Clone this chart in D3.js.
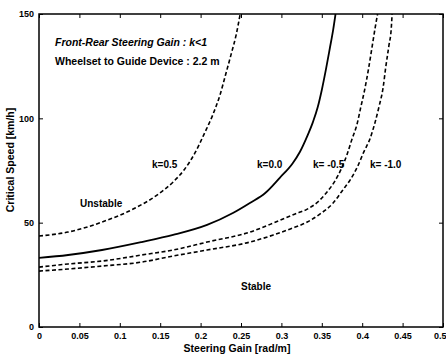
<!DOCTYPE html>
<html>
<head>
<meta charset="utf-8">
<script src="https://cdn.jsdelivr.net/npm/d3@7"></script>
<style>
  body { margin: 0; background: #fff; }
  text { font-family: "Liberation Sans", Arial, sans-serif; font-weight: bold; fill: #000; }
</style>
</head>
<body>
<div id="chart"></div>
<script>
// curve data (steering gain [rad/m] vs critical speed [km/h])
var gainHalf = [0, 0.036, 0.078, 0.119, 0.146, 0.166, 0.180, 0.193, 0.205, 0.215, 0.224, 0.231, 0.238, 0.244, 0.249];
var speedHalf = [43.6, 45.5, 50.3, 57.0, 63.2, 69.5, 75.5, 83.4, 93, 101.6, 111.2, 121, 131, 140, 150];

var gainZero = [0, 0.036, 0.078, 0.127, 0.166, 0.208, 0.240, 0.261, 0.280, 0.298, 0.314, 0.323, 0.332, 0.339, 0.345, 0.350, 0.355, 0.360, 0.364, 0.367];
var speedZero = [33.1, 34.5, 36.9, 40.7, 44.1, 48.9, 54.6, 59.4, 64.2, 71.5, 78.5, 84, 91.5, 98.2, 105.4, 113.6, 123.2, 133.7, 142.3, 150];

var gainMinusHalf = [0, 0.036, 0.078, 0.127, 0.166, 0.208, 0.261, 0.290, 0.317, 0.332, 0.345, 0.356, 0.366, 0.374, 0.381, 0.387, 0.394, 0.398, 0.403, 0.408, 0.412, 0.416, 0.419];
var speedMinusHalf = [28.7, 30.2, 31.6, 34.5, 36.9, 40.7, 45.5, 49.8, 54.2, 56.5, 59.9, 64.5, 69.8, 75.7, 82.4, 89.6, 97.8, 104.9, 113.6, 124.1, 133.7, 143.3, 150];

var gainMinusOne = [0, 0.036, 0.078, 0.127, 0.166, 0.208, 0.261, 0.290, 0.311, 0.332, 0.348, 0.364, 0.376, 0.385, 0.394, 0.402, 0.410, 0.416, 0.421, 0.426, 0.429, 0.433, 0.436, 0.437];
var speedMinusOne = [26.8, 27.8, 29.2, 31.1, 34.0, 36.9, 40.7, 44.1, 47.0, 50.3, 54.2, 59.4, 65.7, 70.4, 76.7, 83.9, 90.6, 98.2, 105.9, 115.0, 124.1, 134.7, 143.3, 150];

var xTicks = [0, 0.05, 0.1, 0.15, 0.2, 0.25, 0.3, 0.35, 0.4, 0.45, 0.5];
var yTicks = [0, 50, 100, 150];

var width = 446;
var height = 356;

var svg = d3
    .select("#chart")
    .append("svg")
    .attr("width", width)
    .attr("height", height);

var xScale = d3.scaleLinear().domain([0, 0.5]).range([39, 443]);
var yScale = d3.scaleLinear().domain([0, 150]).range([327, 14]);

// clip so curves stop at the frame
svg.append("clipPath")
    .attr("id", "plotClip")
    .append("rect")
    .attr("x", xScale(0))
    .attr("y", yScale(150))
    .attr("width", xScale(0.5) - xScale(0))
    .attr("height", yScale(0) - yScale(150));

// axes with inward ticks (matlab style box)
var xAxis = d3.axisBottom(xScale).tickValues(xTicks).tickSize(-4).tickPadding(6)
    .tickFormat(function(d) { return d === 0 ? "0" : String(d); });
var yAxis = d3.axisLeft(yScale).tickValues(yTicks).tickSize(-4).tickPadding(5);

var gx = svg.append("g")
    .attr("class", "xAxis")
    .attr("transform", "translate(0," + yScale(0) + ")")
    .call(xAxis);

var gy = svg.append("g")
    .attr("class", "yAxis")
    .attr("transform", "translate(" + xScale(0) + ",0)")
    .call(yAxis);

svg.append("g")
    .attr("transform", "translate(0," + yScale(150) + ")")
    .call(d3.axisTop(xScale).tickValues(xTicks).tickSize(-4).tickFormat(""));

svg.append("g")
    .attr("transform", "translate(" + xScale(0.5) + ",0)")
    .call(d3.axisRight(yScale).tickValues(yTicks).tickSize(-4).tickFormat(""));

svg.selectAll(".domain").remove();
svg.selectAll(".tick line").attr("stroke", "#000").attr("stroke-width", 1);
svg.selectAll(".tick text")
    .attr("font-size", 9)
    .style("font-family", "'Liberation Sans', Arial, sans-serif")
    .style("font-weight", "bold");

// last x label sits on the window edge, keep it inside
gx.selectAll(".tick text")
    .filter(function(d) { return d === 0.5; })
    .attr("text-anchor", "end")
    .attr("x", 3);

// frame
svg.append("rect")
    .attr("x", xScale(0))
    .attr("y", yScale(150))
    .attr("width", xScale(0.5) - xScale(0))
    .attr("height", yScale(0) - yScale(150))
    .attr("fill", "none")
    .attr("stroke", "#000")
    .attr("stroke-width", 1.5);

// curves
var line = d3.line()
    .x(function(d) { return xScale(d[0]); })
    .y(function(d) { return yScale(d[1]); })
    .curve(d3.curveMonotoneX);

function pairs(xs, ys) {
    return xs.map(function(x, i) { return [x, ys[i]]; });
}

var curves = [
    { pts: pairs(gainHalf, speedHalf), dash: "4,2.5" },
    { pts: pairs(gainZero, speedZero), dash: null },
    { pts: pairs(gainMinusHalf, speedMinusHalf), dash: "4,2.5" },
    { pts: pairs(gainMinusOne, speedMinusOne), dash: "4,2.5" }
];

var plot = svg.append("g").attr("clip-path", "url(#plotClip)");

curves.forEach(function(c) {
    plot.append("path")
        .attr("d", line(c.pts))
        .attr("fill", "none")
        .attr("stroke", "#000")
        .attr("stroke-width", c.dash ? 1.6 : 1.8)
        .attr("stroke-dasharray", c.dash);
});

// annotations
svg.append("text")
    .attr("x", 55)
    .attr("y", 46)
    .attr("font-size", 10.5)
    .style("font-style", "italic")
    .text("Front-Rear Steering Gain : k<1");

svg.append("text")
    .attr("x", 55)
    .attr("y", 65)
    .attr("font-size", 10.5)
    .text("Wheelset to Guide Device : 2.2 m");

var notes = [
    { t: "k=0.5", x: 152, y: 168 },
    { t: "k=0.0", x: 257, y: 168 },
    { t: "k= -0.5", x: 313, y: 168 },
    { t: "k= -1.0", x: 370, y: 168 },
    { t: "Unstable", x: 80, y: 207 },
    { t: "Stable", x: 241, y: 290 }
];

svg.selectAll(".note")
    .data(notes)
    .enter()
    .append("text")
    .attr("class", "note")
    .attr("x", function(d) { return d.x; })
    .attr("y", function(d) { return d.y; })
    .attr("font-size", 10)
    .text(function(d) { return d.t; });

// axis labels
svg.append("text")
    .attr("x", 237)
    .attr("y", 352)
    .attr("text-anchor", "middle")
    .attr("font-size", 10.5)
    .text("Steering Gain [rad/m]");

svg.append("text")
    .attr("transform", "translate(14,160)rotate(-90)")
    .attr("text-anchor", "middle")
    .attr("font-size", 10.5)
    .text("Critical Speed [km/h]");
</script>
</body>
</html>
